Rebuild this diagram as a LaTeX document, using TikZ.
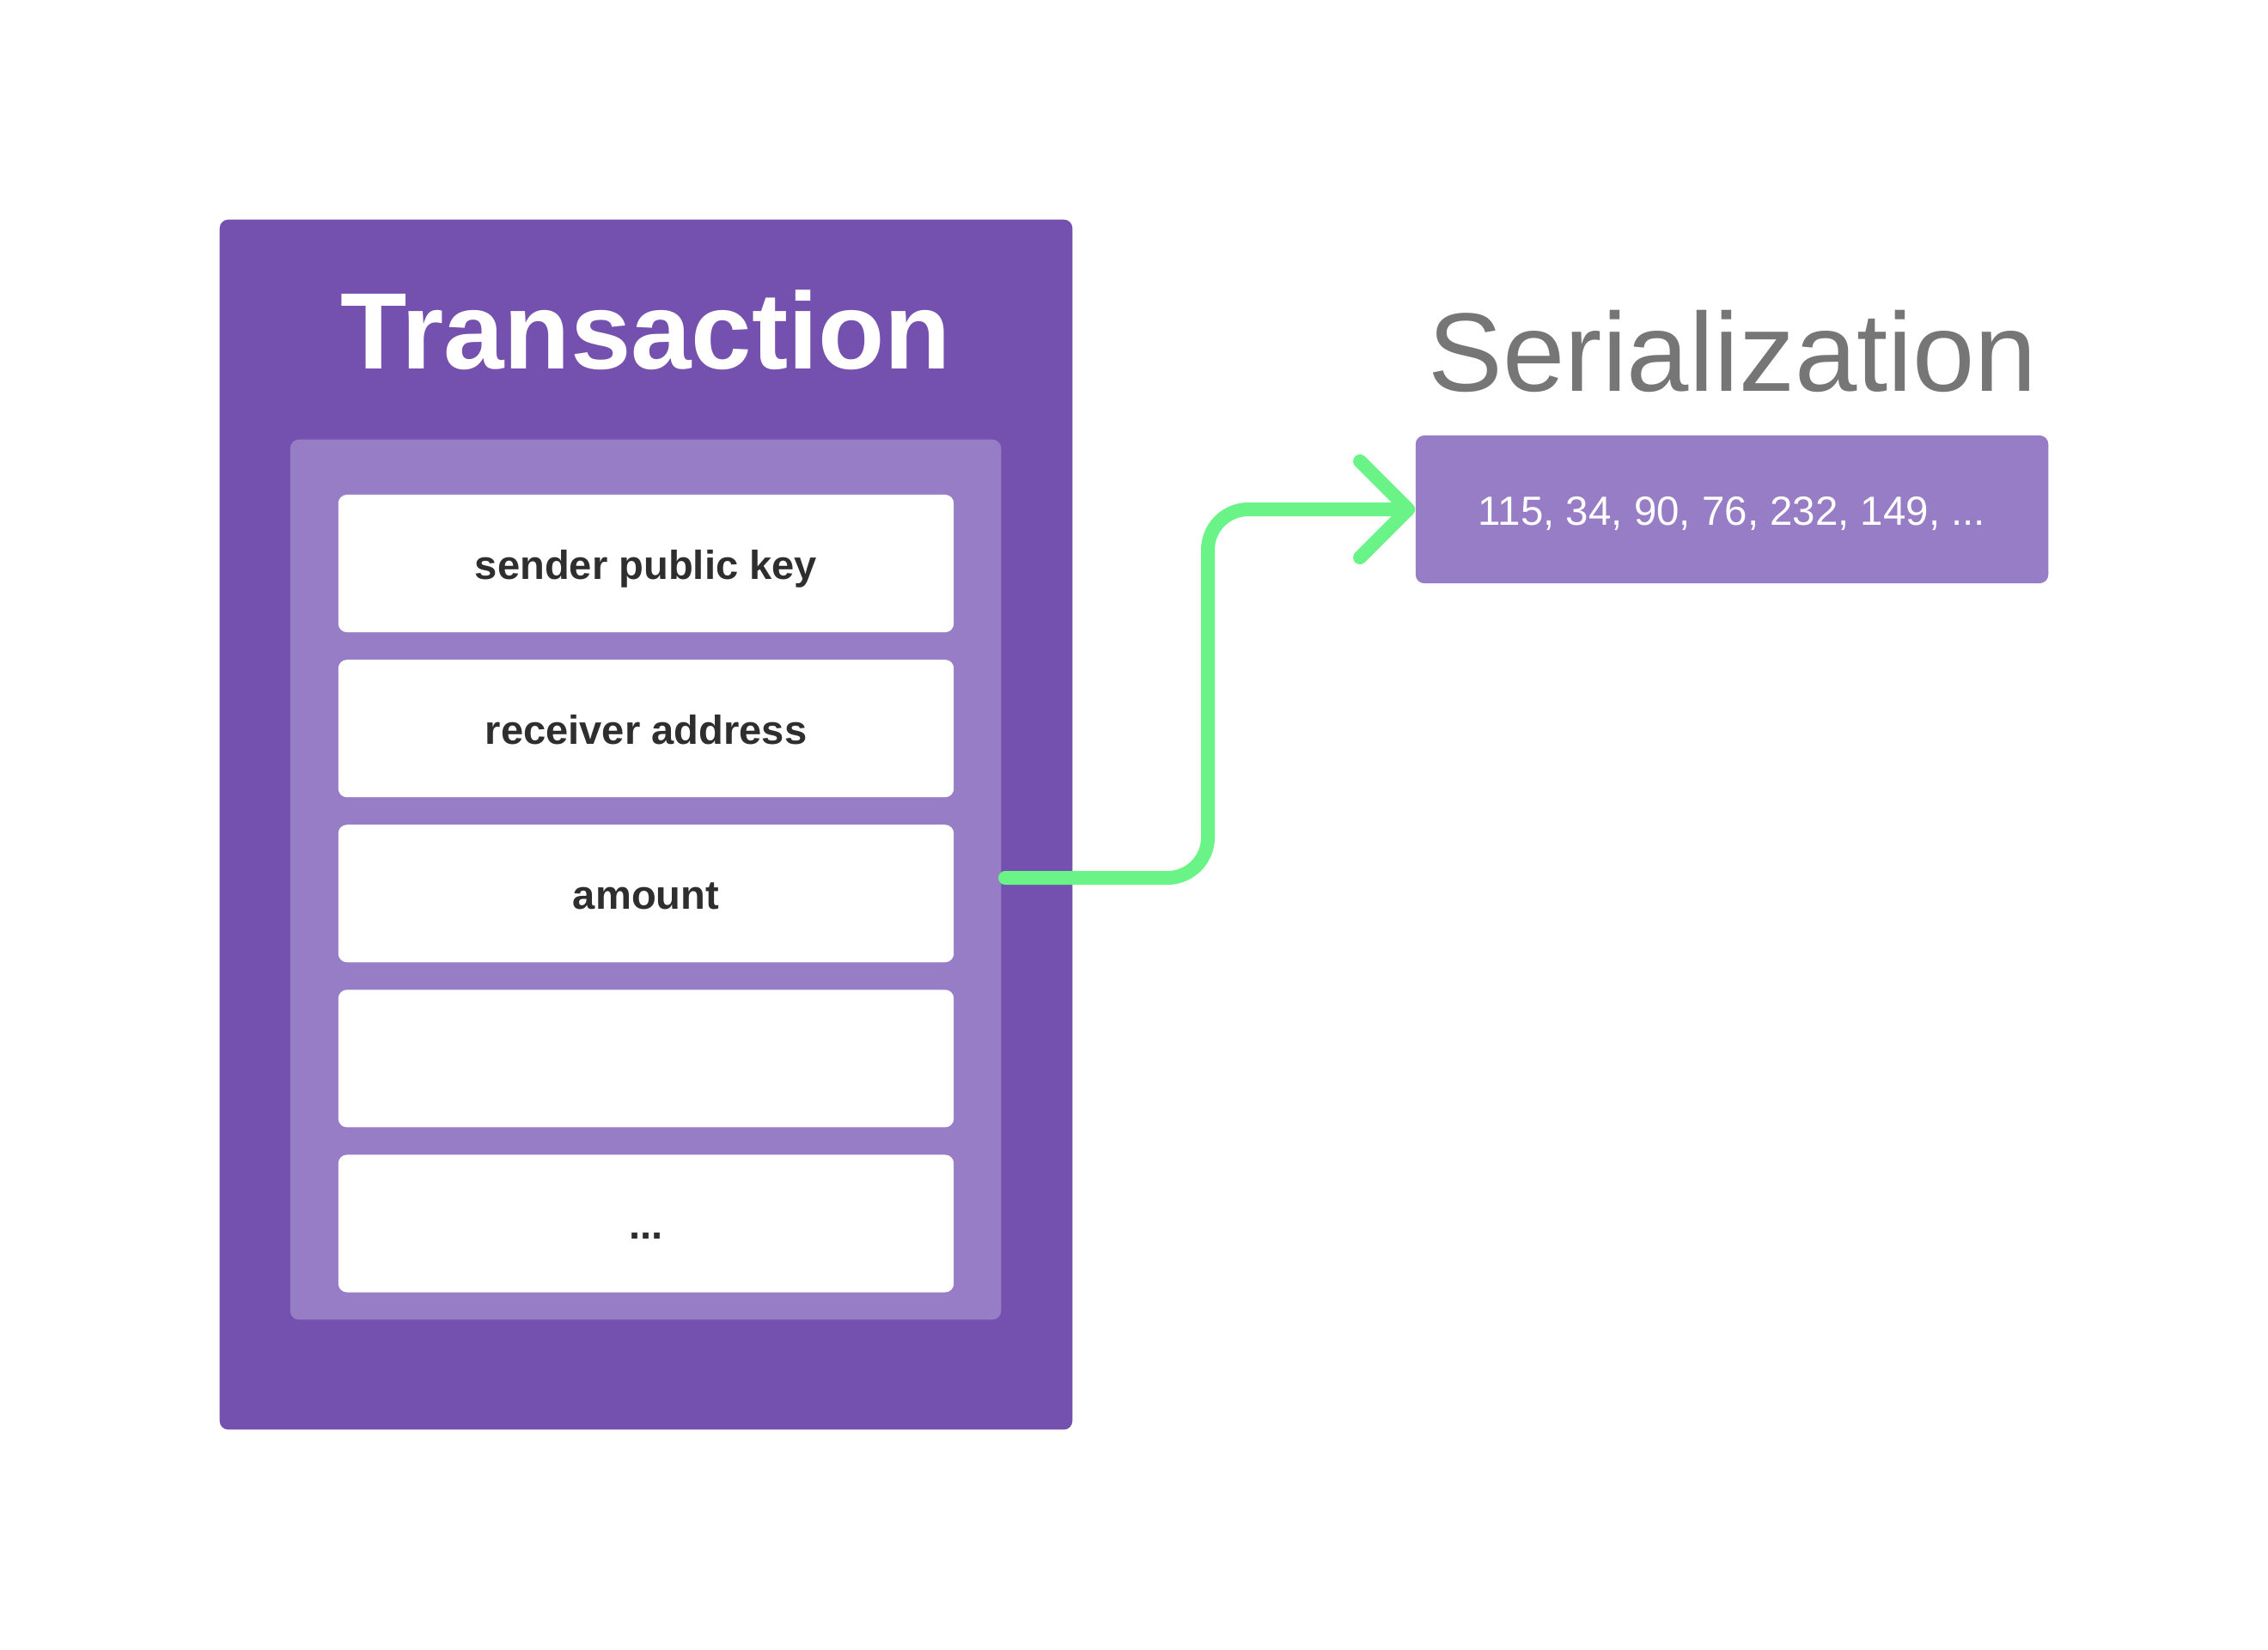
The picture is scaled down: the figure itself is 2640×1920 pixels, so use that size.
\documentclass[tikz,border=0pt]{standalone}
\usepackage{fontspec}
\setmainfont{Liberation Sans}
\usetikzlibrary{positioning,calc,arrows.meta}

\definecolor{txpurple}{HTML}{7551AF}
\definecolor{fieldpurple}{HTML}{977DC5}
\definecolor{flowgreen}{HTML}{6AF487}
\definecolor{fieldtext}{HTML}{2E2E2E}
\definecolor{headgray}{HTML}{767676}

\begin{document}
\begin{tikzpicture}[
    x=0.01cm, y=-0.01cm,
    outerbox/.style={fill=txpurple, rounded corners=0.1cm, minimum width=9.92cm, minimum height=14.08cm, inner sep=0pt},
    innerbox/.style={fill=fieldpurple, rounded corners=0.1cm, minimum width=8.27cm, minimum height=10.24cm, inner sep=0pt},
    field/.style={fill=white, rounded corners=0.1cm, minimum width=7.16cm, minimum height=1.6cm, inner sep=0pt, outer sep=0pt,
        text=fieldtext, text height=0.46cm, text depth=0.1cm, font=\fontsize{13.4pt}{16pt}\selectfont\bfseries},
    serbox/.style={fill=fieldpurple, rounded corners=0.1cm, minimum width=7.36cm, minimum height=1.72cm, inner sep=0pt,
        text=white, text height=0.44cm, text depth=0.08cm, font=\fontsize{13.5pt}{16pt}\selectfont},
    heading/.style={inner sep=0pt, font=\fontsize{37pt}{44pt}\selectfont},
    flow/.style={draw=flowgreen, line width=0.16cm, line cap=round, line join=round, rounded corners=0.47cm,
        -{Straight Barb[length=0.56cm, width=1.12cm, line cap=round, line join=round]}}
]
\useasboundingbox (0,0) rectangle (2640,1920);

% Transaction
\node[outerbox] (tx) at (752,960) {};
\node[heading, text=white, font=\fontsize{36pt}{44pt}\selectfont\bfseries] (txtitle) at (752,384) {Transaction};
\node[innerbox] (fields) at (751.5,1024) {};

% Fields
\node[field] (sender) at (752,656) {sender public key};
\node[field, below=0.32cm of sender] (receiver) {receiver address};
\node[field, below=0.32cm of receiver] (amount) {amount};
\node[field, below=0.32cm of amount] (blank) {};
\node[field, below=0.32cm of blank] (more) {...};

% Serialization
\node[heading, text=headgray] (sertitle) at (2017,409) {Serialization};
\node[serbox] (ser) at (2016,593) {115, 34, 90, 76, 232, 149, ...};

% Flow
\coordinate (start) at (1170,1022);
\coordinate (turn) at (1406,800);
\draw[flow] (start) -| (turn) |- (ser.west);

\end{tikzpicture}
\end{document}
